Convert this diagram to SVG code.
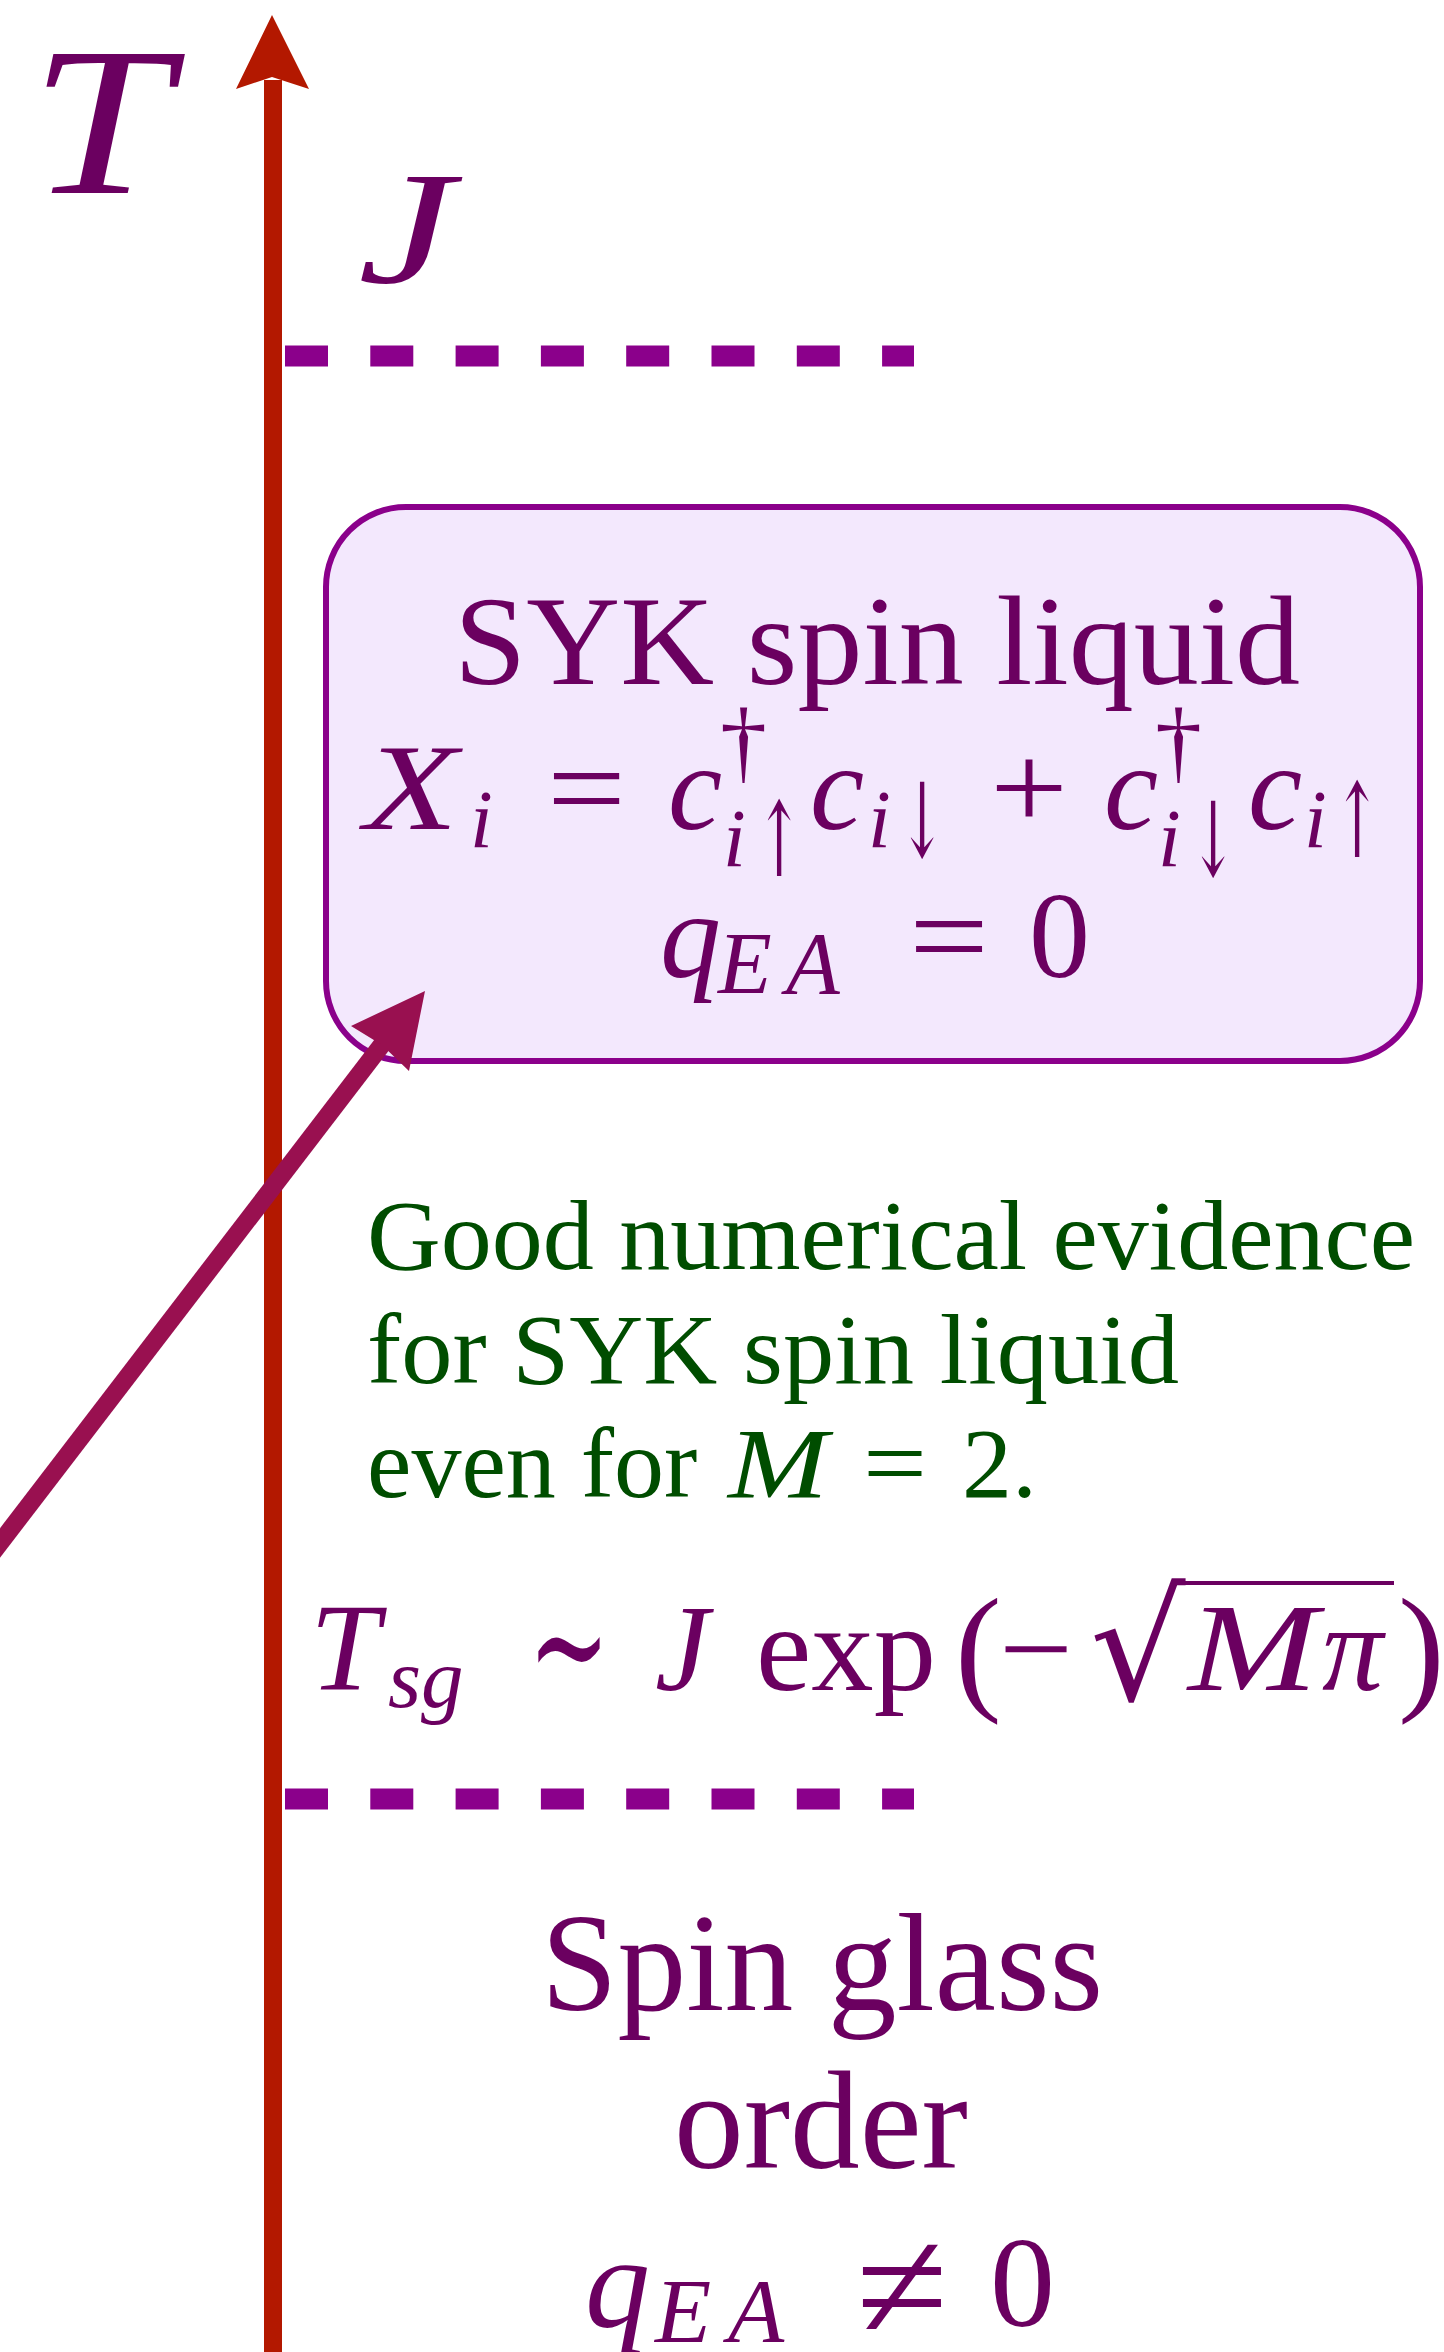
<svg xmlns="http://www.w3.org/2000/svg" width="1444" height="2352" viewBox="0 0 1444 2352">
<style>
.t{font-family:"Liberation Serif","Times New Roman",serif;fill:#6B0060}
.it{font-style:italic}
.g{font-family:"Liberation Serif","Times New Roman",serif;fill:#004D00}
.sym{font-family:"DejaVu Serif","Liberation Serif",serif;fill:#6B0060}
.dash{stroke:#8B008B;stroke-width:21;stroke-dasharray:43 42.3;fill:none}
</style>
<rect width="1444" height="2352" fill="#FFFFFF"/>

<g id="boundaries">
  <line class="dash" x1="285" y1="356" x2="914" y2="356"/>
  <line class="dash" x1="285" y1="1799" x2="914" y2="1799"/>
</g>

<g id="syk-box">
  <rect x="326" y="507" width="1094" height="554" rx="80" ry="80" fill="#F3E8FD" stroke="#8B008B" stroke-width="6"/>
  <text class="t" x="454" y="684" font-size="127" textLength="846" lengthAdjust="spacingAndGlyphs">SYK spin liquid</text>
  <g id="xi-eq">
    <text class="t it" x="364" y="829" font-size="122" textLength="94" lengthAdjust="spacingAndGlyphs">X</text>
    <text class="t it" x="470" y="847" font-size="82">i</text>
    <text class="t" x="547" y="829" font-size="122" textLength="79" lengthAdjust="spacingAndGlyphs">=</text>
    <text class="t it" x="668" y="829" font-size="122">c</text>
    <text class="t" x="720" y="772" font-size="94">†</text>
    <text class="t it" x="723" y="866" font-size="82">i</text>
    <text class="sym" x="756" y="876" font-size="104" textLength="46" lengthAdjust="spacingAndGlyphs">↑</text>
    <text class="t it" x="810" y="829" font-size="122">c</text>
    <text class="t it" x="868" y="847" font-size="82">i</text>
    <text class="sym" x="899" y="857" font-size="104" textLength="46" lengthAdjust="spacingAndGlyphs">↓</text>
    <text class="t" x="990" y="829" font-size="122" textLength="78" lengthAdjust="spacingAndGlyphs">+</text>
    <text class="t it" x="1104" y="829" font-size="122">c</text>
    <text class="t" x="1155" y="772" font-size="94">†</text>
    <text class="t it" x="1158" y="866" font-size="82">i</text>
    <text class="sym" x="1190" y="876" font-size="104" textLength="46" lengthAdjust="spacingAndGlyphs">↓</text>
    <text class="t it" x="1248" y="829" font-size="122">c</text>
    <text class="t it" x="1304" y="847" font-size="82">i</text>
    <text class="sym" x="1334" y="857" font-size="104" textLength="46" lengthAdjust="spacingAndGlyphs">↑</text>
  </g>
  <g id="qea-zero">
    <text class="t it" x="660" y="977" font-size="122">q</text>
    <text class="t it" x="718" y="993" font-size="88">E</text>
    <text class="t it" x="786" y="993" font-size="88">A</text>
    <text class="t" x="909" y="977" font-size="122" textLength="80" lengthAdjust="spacingAndGlyphs">=</text>
    <text class="t" x="1029" y="977" font-size="122">0</text>
  </g>
</g>

<g id="axis-labels">
  <text class="t it" x="30" y="193" font-size="211" textLength="140" lengthAdjust="spacingAndGlyphs">T</text>
  <text class="t it" x="358" y="282" font-size="160" textLength="96" lengthAdjust="spacingAndGlyphs">J</text>
</g>

<g id="evidence-note">
  <text class="g" x="367" y="1269" font-size="100" textLength="1048" lengthAdjust="spacingAndGlyphs">Good numerical evidence</text>
  <text class="g" x="367" y="1383" font-size="100" textLength="812" lengthAdjust="spacingAndGlyphs">for SYK spin liquid</text>
  <text class="g" x="367" y="1497" font-size="100">even for</text>
  <text class="g it" x="728" y="1497" font-size="100" textLength="100" lengthAdjust="spacingAndGlyphs">M</text>
  <text class="g" x="863" y="1497" font-size="100" textLength="64" lengthAdjust="spacingAndGlyphs">=</text>
  <text class="g" x="962" y="1497" font-size="100">2.</text>
</g>

<g id="tsg-formula">
  <text class="t it" x="310" y="1690" font-size="125">T</text>
  <text class="t it" x="388" y="1707" font-size="85">sg</text>
  <text class="sym" x="528" y="1700" font-size="160" textLength="82" lengthAdjust="spacingAndGlyphs">∼</text>
  <text class="t it" x="655" y="1690" font-size="122">J</text>
  <text class="t" x="756" y="1690" font-size="122" textLength="180" lengthAdjust="spacingAndGlyphs">exp</text>
  <text class="t" x="955" y="1695" font-size="140">(</text>
  <text class="t" x="999" y="1690" font-size="122" textLength="74" lengthAdjust="spacingAndGlyphs">−</text>
  <text class="sym" x="1090" y="1700" font-size="150">√</text>
  <line x1="1180" y1="1583" x2="1394" y2="1583" stroke="#6B0060" stroke-width="4"/>
  <text class="t it" x="1188" y="1690" font-size="125" textLength="130" lengthAdjust="spacingAndGlyphs">M</text>
  <text class="t it" x="1322" y="1690" font-size="122">π</text>
  <text class="t" x="1398" y="1695" font-size="140">)</text>
</g>

<g id="spin-glass">
  <text class="t" x="541" y="2010" font-size="139" textLength="562" lengthAdjust="spacingAndGlyphs">Spin glass</text>
  <text class="t" x="674" y="2168" font-size="139" textLength="294" lengthAdjust="spacingAndGlyphs">order</text>
  <text class="t it" x="585" y="2326" font-size="130">q</text>
  <text class="t it" x="655" y="2342" font-size="92">E</text>
  <text class="t it" x="728" y="2342" font-size="92">A</text>
  <text class="t" x="856" y="2340" font-size="160" textLength="92" lengthAdjust="spacingAndGlyphs">≠</text>
  <text class="t" x="990" y="2326" font-size="130">0</text>
</g>

<g id="connectors">
  <line x1="273" y1="2352" x2="273" y2="80" stroke="#B31800" stroke-width="18"/>
  <path d="M272,15 L309,89 L272,77 L236,89 Z" fill="#B31800"/>
  <line x1="-10" y1="1556" x2="384" y2="1042" stroke="#991050" stroke-width="18"/>
  <path d="M425,991 L409,1071 L382,1045 L351,1026 Z" fill="#991050"/>
</g>
</svg>
